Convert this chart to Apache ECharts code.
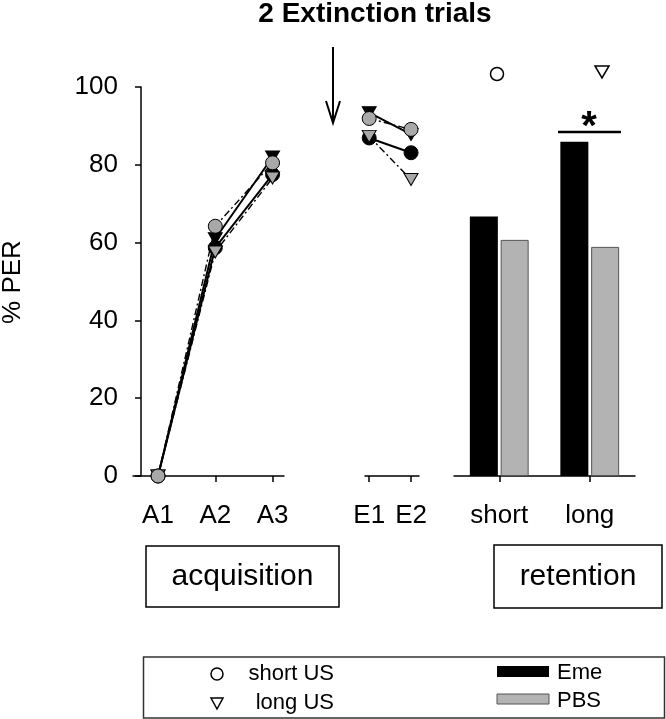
<!DOCTYPE html>
<html>
<head>
<meta charset="utf-8">
<script src="https://cdn.jsdelivr.net/npm/echarts@6/dist/echarts.min.js"></script>
<style>
  html, body { margin: 0; padding: 0; background: #fff; }
  #chart { width: 666px; height: 719px; }
</style>
</head>
<body>
<div id="chart"></div>
<script>
// ---- data ----
const yTicks = [0, 20, 40, 60, 80, 100];
const acqCategories = ['A1', 'A2', 'A3'];
const extCategories = ['E1', 'E2'];
const retCategories = ['short', 'long'];

const acqShortEme = [0, 58.7, 77.5];
const acqShortPBS = [0, 64.2, 80.5];
const acqLongEme  = [0, 61.0, 82.0];
const acqLongPBS  = [0, 57.6, 76.6];

const extShortEme = [86.9, 83.1];
const extShortPBS = [91.9, 89.1];
const extLongEme  = [93.4, 87.8];
const extLongPBS  = [87.3, 76.2];

const retEme = [66.7, 85.9];
const retPBS = [60.7, 58.9];

// ---- styles ----
const FONT = 'Liberation Sans';
const GRAY = '#a8a8a8';
const BAR_GRAY = '#b3b3b3';
const DASHDOT = [7, 3, 2, 3];

function pts(vals) { return vals.map((v, i) => [i + 1, v]); }

function lineSeries(name, vals, xi, isEme, isTri) {
  return {
    name: name,
    type: 'line',
    xAxisIndex: xi,
    yAxisIndex: xi,
    data: pts(vals),
    clip: false,
    symbol: isTri ? 'triangle' : 'circle',
    symbolRotate: isTri ? 180 : 0,
    symbolSize: isTri ? [14, 12] : 14,
    lineStyle: isEme ? { color: '#000', width: 2, type: 'solid' }
                     : { color: '#000', width: 1.4, type: DASHDOT },
    itemStyle: isEme ? { color: '#000', borderColor: '#000', borderWidth: 1 }
                     : { color: GRAY, borderColor: '#000', borderWidth: 1 },
    z: isEme ? 3 : 4
  };
}

const axisLineStyle = { color: '#000', width: 1.5 };
const labelStyle = { color: '#000', fontSize: 26, fontFamily: FONT };

const option = {
  animation: false,
  backgroundColor: '#fff',
  grid: [
    { left: 133, top: 87, width: 151, height: 389 },
    { left: 365, top: 87, width: 54, height: 389 },
    { left: 454, top: 87, width: 181, height: 389 }
  ],
  xAxis: [
    {
      gridIndex: 0, type: 'value', min: 0.563, max: 3.2,
      axisLine: { show: true, lineStyle: axisLineStyle },
      axisTick: { show: true, inside: false, length: 6, customValues: [1, 2, 3], lineStyle: axisLineStyle },
      axisLabel: Object.assign({ margin: 27, customValues: [1, 2, 3],
        formatter: v => acqCategories[Math.round(v) - 1] }, labelStyle),
      splitLine: { show: false }
    },
    {
      gridIndex: 1, type: 'value', min: 0.9, max: 2.19,
      axisLine: { show: true, lineStyle: axisLineStyle },
      axisTick: { show: true, inside: false, length: 6, customValues: [1, 2], lineStyle: axisLineStyle },
      axisLabel: Object.assign({ margin: 27, customValues: [1, 2],
        formatter: v => extCategories[Math.round(v) - 1] }, labelStyle),
      splitLine: { show: false }
    },
    {
      gridIndex: 2, type: 'category', data: retCategories,
      axisLine: { show: true, lineStyle: axisLineStyle },
      axisTick: { show: true, inside: false, length: 6, alignWithLabel: true, lineStyle: axisLineStyle },
      axisLabel: Object.assign({ margin: 27, interval: 0 }, labelStyle),
      splitLine: { show: false }
    }
  ],
  yAxis: [
    {
      gridIndex: 0, type: 'value', min: yTicks[0], max: yTicks[yTicks.length - 1], interval: 20,
      offset: -8,
      axisLine: { show: true, lineStyle: axisLineStyle },
      axisTick: { show: true, inside: false, length: 6, lineStyle: axisLineStyle },
      axisLabel: Object.assign({ margin: 23, padding: [6, 0, 0, 0] }, labelStyle),
      splitLine: { show: false }
    },
    { gridIndex: 1, type: 'value', min: 0, max: 100, show: false, splitLine: { show: false } },
    { gridIndex: 2, type: 'value', min: 0, max: 100, show: false, splitLine: { show: false } }
  ],
  series: [
    lineSeries('short US Eme (acq)', acqShortEme, 0, true, false),
    lineSeries('long US Eme (acq)', acqLongEme, 0, true, true),
    lineSeries('long US PBS (acq)', acqLongPBS, 0, false, true),
    lineSeries('short US PBS (acq)', acqShortPBS, 0, false, false),
    lineSeries('short US Eme (ext)', extShortEme, 1, true, false),
    lineSeries('long US Eme (ext)', extLongEme, 1, true, true),
    lineSeries('long US PBS (ext)', extLongPBS, 1, false, true),
    lineSeries('short US PBS (ext)', extShortPBS, 1, false, false),
    {
      name: 'Eme', type: 'bar', xAxisIndex: 2, yAxisIndex: 2,
      data: retEme, barWidth: 28, barGap: '10%',
      itemStyle: { color: '#000' }
    },
    {
      name: 'PBS', type: 'bar', xAxisIndex: 2, yAxisIndex: 2,
      data: retPBS, barWidth: 28, barGap: '10%',
      itemStyle: { color: BAR_GRAY, borderColor: '#555', borderWidth: 1 }
    }
  ],
  graphic: [
    // title
    { type: 'text', x: 375, y: 14, style: { text: '2 Extinction trials', fontFamily: FONT,
      fontSize: 28, fontWeight: 'bold', fill: '#000', align: 'center', verticalAlign: 'middle' } },
    // arrow
    { type: 'line', shape: { x1: 333, y1: 47, x2: 333, y2: 122 }, style: { stroke: '#000', lineWidth: 2 } },
    { type: 'polyline', shape: { points: [[326, 101], [333, 123], [340, 101]] },
      style: { stroke: '#000', lineWidth: 2, fill: null } },
    // y axis name
    { type: 'text', x: 13, y: 282, rotation: Math.PI / 2, style: { text: '% PER', fontFamily: FONT,
      fontSize: 26, fill: '#000', align: 'center', verticalAlign: 'middle' } },
    // annotation symbols above bars
    { type: 'circle', shape: { cx: 497, cy: 74, r: 6.5 }, style: { stroke: '#000', lineWidth: 1.5, fill: '#fff' } },
    { type: 'polygon', shape: { points: [[595, 66], [609, 66], [602, 78]] },
      style: { stroke: '#000', lineWidth: 1.5, fill: '#fff' } },
    // significance
    { type: 'line', shape: { x1: 558, y1: 132, x2: 621, y2: 132 }, style: { stroke: '#000', lineWidth: 2.5 } },
    { type: 'text', x: 589, y: 128, style: { text: '*', fontFamily: FONT, fontSize: 40, fontWeight: 'bold',
      fill: '#000', align: 'center', verticalAlign: 'middle' } },
    // section boxes
    { type: 'rect', shape: { x: 146, y: 546, width: 193, height: 61 },
      style: { stroke: '#000', lineWidth: 1.5, fill: '#fff' } },
    { type: 'text', x: 242.5, y: 577, style: { text: 'acquisition', fontFamily: FONT, fontSize: 30,
      fill: '#000', align: 'center', verticalAlign: 'middle' } },
    { type: 'rect', shape: { x: 494, y: 545, width: 168, height: 63 },
      style: { stroke: '#000', lineWidth: 1.5, fill: '#fff' } },
    { type: 'text', x: 578, y: 577, style: { text: 'retention', fontFamily: FONT, fontSize: 30,
      fill: '#000', align: 'center', verticalAlign: 'middle' } },
    // legend box
    { type: 'rect', shape: { x: 143.5, y: 657, width: 521, height: 61 },
      style: { stroke: '#333', lineWidth: 1.5, fill: '#fff' } },
    { type: 'circle', shape: { cx: 217, cy: 674, r: 6 }, style: { stroke: '#000', lineWidth: 1.5, fill: '#fff' } },
    { type: 'text', x: 334, y: 674, style: { text: 'short US', fontFamily: FONT, fontSize: 22,
      fill: '#000', align: 'right', verticalAlign: 'middle' } },
    { type: 'polygon', shape: { points: [[211, 698], [223, 698], [217, 709]] },
      style: { stroke: '#000', lineWidth: 1.5, fill: '#fff' } },
    { type: 'text', x: 334, y: 703, style: { text: 'long US', fontFamily: FONT, fontSize: 22,
      fill: '#000', align: 'right', verticalAlign: 'middle' } },
    { type: 'rect', shape: { x: 497, y: 666, width: 52, height: 11 }, style: { fill: '#000' } },
    { type: 'text', x: 557, y: 673, style: { text: 'Eme', fontFamily: FONT, fontSize: 22,
      fill: '#000', align: 'left', verticalAlign: 'middle' } },
    { type: 'rect', shape: { x: 497, y: 694, width: 52, height: 10 },
      style: { fill: BAR_GRAY, stroke: '#555', lineWidth: 1 } },
    { type: 'text', x: 557, y: 701, style: { text: 'PBS', fontFamily: FONT, fontSize: 22,
      fill: '#000', align: 'left', verticalAlign: 'middle' } }
  ]
};

const chart = echarts.init(document.getElementById('chart'), null, { renderer: 'canvas' });
chart.setOption(option);
</script>
</body>
</html>
